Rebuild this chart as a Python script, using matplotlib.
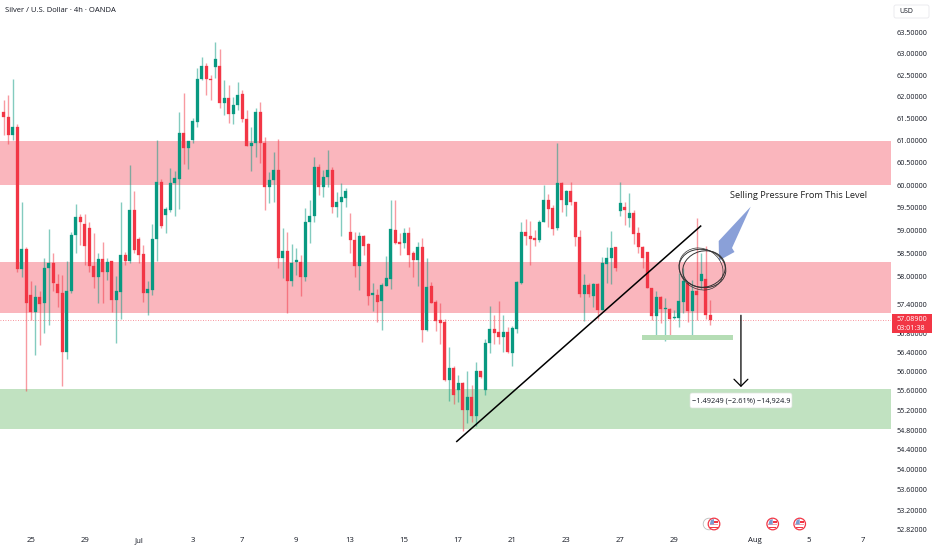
import matplotlib
matplotlib.use('Agg')
import matplotlib.pyplot as plt
import numpy as np
from matplotlib.patches import Ellipse, FancyBboxPatch, Polygon, Rectangle, Circle

plt.rcParams['font.family'] = ['Open Sans', 'DejaVu Sans']

opens = [61.64, 61.54, 61.13, 61.31, 58.16, 58.59, 57.61, 57.25, 57.57, 57.44,
         58.18, 58.29, 57.84, 57.65, 56.41, 57.69, 58.90, 59.30, 59.14, 59.05,
         58.23, 58.00, 58.38, 58.11, 58.33, 57.51, 57.68, 58.47, 58.33, 59.45,
         58.82, 58.49, 57.66, 57.72, 58.82, 60.08, 59.34, 59.45, 60.05, 60.15,
         61.17, 60.84, 61.02, 61.43, 62.40, 62.71, 62.41, 62.69, 62.70, 61.85,
         61.98, 61.60, 61.81, 62.06, 61.48, 60.87, 60.94, 61.64, 60.94, 59.97,
         60.11, 60.34, 58.40, 58.56, 57.91, 58.32, 58.32, 57.99, 59.18, 59.32,
         60.40, 59.97, 60.18, 60.35, 59.51, 59.63, 59.71, 58.98, 58.80, 58.23,
         58.88, 58.70, 57.61, 57.62, 57.48, 57.81, 57.96, 59.01, 58.75, 58.73,
         58.95, 58.51, 58.36, 58.65, 56.87, 57.81, 57.47, 57.07, 57.04, 55.83,
         56.07, 55.62, 55.77, 55.20, 55.47, 55.09, 56.01, 55.62, 56.59, 56.89,
         56.82, 56.73, 56.82, 56.38, 56.90, 57.86, 58.96, 58.88, 58.83, 58.80,
         59.20, 59.68, 59.49, 59.05, 60.05, 59.56, 59.88, 59.63, 58.87, 57.64,
         57.82, 57.59, 57.84, 57.30, 58.28, 58.40, 58.64, 59.44, 59.51, 59.28,
         59.39, 58.94, 58.65, 58.54, 57.75, 57.17, 57.57, 57.32, 57.32, 57.13,
         57.13, 57.47, 57.86, 57.27, 57.70, 57.92, 57.95, 57.19]
closes = [61.54, 61.13, 61.31, 58.16, 58.59, 57.44, 57.25, 57.57, 57.42, 58.18,
          58.29, 57.86, 57.65, 56.41, 57.69, 58.90, 59.30, 59.18, 58.67, 58.23,
          58.00, 58.38, 58.11, 58.31, 57.51, 57.69, 58.47, 58.33, 59.45, 58.58,
          58.47, 57.66, 57.73, 58.82, 60.08, 59.10, 59.47, 60.06, 60.17, 61.17,
          60.84, 60.99, 61.44, 62.40, 62.71, 62.40, 62.39, 62.88, 61.85, 61.98,
          61.60, 61.81, 62.04, 61.48, 60.87, 60.94, 61.64, 60.94, 59.97, 60.11,
          60.34, 58.40, 58.56, 57.91, 58.29, 58.36, 57.99, 59.20, 59.32, 60.40,
          59.97, 60.19, 60.35, 59.51, 59.63, 59.74, 59.88, 58.80, 58.23, 58.88,
          58.67, 57.59, 57.66, 57.47, 57.82, 57.98, 59.03, 58.73, 58.70, 58.95,
          58.48, 58.36, 58.65, 56.86, 57.79, 57.45, 57.05, 57.02, 55.83, 56.07,
          55.51, 55.77, 55.21, 55.47, 55.09, 56.01, 55.88, 56.60, 56.89, 56.81,
          56.73, 56.82, 56.40, 56.91, 57.88, 58.96, 58.88, 58.82, 58.80, 59.20,
          59.68, 59.48, 59.04, 60.04, 59.67, 59.88, 59.62, 58.87, 57.64, 57.82,
          57.64, 57.84, 57.30, 58.29, 58.41, 58.62, 58.20, 59.61, 59.45, 59.39,
          58.92, 58.65, 58.40, 57.75, 57.17, 57.57, 57.32, 57.33, 57.10, 57.14,
          57.49, 57.92, 57.27, 57.70, 57.62, 58.07, 57.19, 57.089]
highs = [61.92, 62.04, 62.40, 61.38, 59.62, 58.65, 57.91, 57.82, 57.69, 58.40,
         59.03, 58.51, 58.06, 58.04, 58.35, 58.98, 59.58, 59.36, 59.36, 59.20,
         58.95, 58.51, 58.76, 58.40, 58.35, 58.02, 59.62, 58.53, 60.45, 59.87,
         58.87, 58.69, 57.92, 59.14, 61.02, 60.15, 59.52, 60.39, 60.31, 61.66,
         62.09, 60.99, 61.52, 62.67, 62.91, 62.77, 62.50, 63.26, 63.11, 62.38,
         62.27, 62.00, 62.34, 62.16, 61.70, 61.31, 61.73, 61.88, 61.09, 60.30,
         60.75, 61.04, 59.05, 58.98, 58.71, 58.62, 58.47, 59.49, 59.67, 60.64,
         60.47, 60.34, 60.78, 60.41, 59.85, 60.06, 59.93, 59.38, 58.98, 58.98,
         58.90, 58.72, 57.86, 57.73, 57.86, 58.44, 59.67, 59.68, 58.94, 59.05,
         59.07, 58.56, 58.75, 58.85, 58.40, 57.89, 57.50, 57.45, 57.11, 56.51,
         56.11, 55.93, 55.79, 56.02, 55.72, 56.20, 56.01, 56.69, 57.37, 57.19,
         57.48, 57.18, 56.93, 56.95, 57.92, 59.20, 59.25, 59.22, 59.01, 59.23,
         60.00, 59.80, 59.56, 60.94, 60.07, 59.89, 60.08, 59.63, 59.01, 58.05,
         57.86, 57.87, 57.86, 58.42, 58.64, 58.99, 58.65, 60.08, 59.63, 59.82,
         59.45, 59.09, 58.67, 58.54, 57.77, 57.69, 57.59, 57.54, 57.34, 57.29,
         58.08, 58.18, 57.89, 57.93, 59.27, 58.51, 58.67, 57.50]
lows = [61.13, 60.93, 61.02, 58.11, 58.00, 55.60, 57.07, 56.35, 56.55, 56.80,
        56.97, 57.69, 57.36, 55.71, 56.27, 57.66, 58.51, 58.69, 58.26, 58.11,
        57.77, 57.43, 57.43, 57.93, 57.25, 56.60, 57.10, 58.26, 58.29, 58.51,
        58.29, 57.46, 57.18, 57.62, 58.33, 59.05, 58.94, 59.41, 59.32, 59.47,
        60.47, 60.37, 60.94, 61.31, 62.38, 62.04, 61.92, 62.44, 61.73, 61.58,
        61.39, 61.38, 61.70, 61.43, 60.87, 60.32, 60.64, 60.49, 59.45, 59.60,
        59.63, 58.18, 57.97, 57.22, 57.80, 58.04, 57.59, 57.92, 58.74, 59.20,
        59.78, 59.74, 59.97, 59.38, 59.29, 58.89, 59.51, 58.51, 58.00, 57.72,
        58.47, 57.39, 57.27, 57.04, 56.86, 57.81, 57.73, 58.71, 58.47, 58.63,
        58.21, 58.00, 57.80, 56.62, 56.85, 57.43, 56.85, 56.57, 55.81, 55.40,
        55.34, 55.38, 54.79, 54.95, 54.97, 54.89, 55.86, 55.51, 56.38, 56.58,
        56.57, 56.40, 56.38, 56.11, 56.80, 57.84, 58.69, 58.26, 58.67, 58.76,
        59.20, 59.07, 58.90, 59.01, 59.41, 59.32, 59.56, 58.67, 57.57, 57.05,
        57.57, 57.36, 57.11, 57.29, 57.86, 57.84, 58.13, 59.32, 59.12, 59.07,
        58.71, 58.51, 58.18, 57.75, 57.07, 56.72, 57.02, 56.64, 56.76, 57.11,
        56.93, 57.22, 57.04, 56.74, 57.07, 57.73, 57.11, 56.97]

price_ticks = [63.5, 63.0, 62.5, 62.0, 61.5, 61.0, 60.5, 60.0, 59.5, 59.0, 58.5, 58.0,
               57.4, 56.8, 56.4, 56.0, 55.6, 55.2, 54.8, 54.4, 54.0, 53.6, 53.2, 52.82]
date_ticks = [6, 18, 30, 42, 53, 65, 77, 89, 101, 113, 125, 137, 149, 167, 179, 191]
date_labels = ['25', '29', 'Jul', '3', '7', '9', '13', '15', '17', '21', '23', '27', '29', 'Aug', '5', '7']

red_zones = [(60.0, 61.0), (57.23, 58.32)]
green_zone = (54.82, 55.65)
support_bar = (56.65, 56.76)
support_span = (141.8, 162)
trend_x = [100.7, 154.9]
trend_y = [54.57, 59.10]
target_x = 163.85
target_y = (57.18, 55.68)
last_price = 57.089

UP = '#089981'
DOWN = '#F23645'

fig = plt.figure(figsize=(9.32, 5.5), dpi=100)
ax = fig.add_axes([0, 0, 891 / 932, 1])
ax.set_yscale('log')
ax.set_xlim(-0.815, 197.2)
ax.set_ylim(52.42, 64.26)

for low, high in red_zones:
    ax.axhspan(low, high, color='#FAB6BD', lw=0, zorder=1)
ax.axhspan(green_zone[0], green_zone[1], color='#C1E2C1', lw=0, zorder=1)

x = np.arange(len(opens))
o = np.array(opens)
c = np.array(closes)
colors = [UP if close >= open_ else DOWN for open_, close in zip(o, c)]

ax.vlines(x, lows, highs, colors=colors, lw=1.0, alpha=0.5, zorder=2)
ax.bar(x, np.abs(c - o), bottom=np.minimum(o, c), width=0.68, color=colors,
       edgecolor=colors, linewidth=0.2, zorder=3)

ax.axhline(last_price, color=DOWN, lw=0.6, ls=(0, (1, 2)), alpha=0.7, zorder=2)
ax.plot(trend_x, trend_y, color='black', lw=1.1, zorder=4)
ax.fill_between(support_span, support_bar[0], support_bar[1], color='#B5DDB5', lw=0, zorder=4)
ax.annotate('', xy=(target_x, target_y[1]), xytext=(target_x, target_y[0]),
            arrowprops=dict(arrowstyle='->,head_length=0.5,head_width=0.5', color='black',
                            lw=0.9, shrinkA=0, shrinkB=0), zorder=5)

for side in ax.spines.values():
    side.set_visible(False)
ax.yaxis.tick_right()
ax.set_yticks(price_ticks)
ax.set_yticklabels(['%.5f' % p for p in price_ticks])
ax.minorticks_off()
ax.tick_params(axis='y', length=0, pad=4.2, labelsize=5.2, labelcolor='#131722')
ax.set_xticks(date_ticks)
ax.set_xticklabels(date_labels)
ax.tick_params(axis='x', length=0, pad=-9.5, labelsize=5.6, labelcolor='#131722')

# drawings on top, in picture pixels
top = fig.add_axes([0, 0, 1, 1], facecolor='none')
top.set_xlim(0, 932)
top.set_ylim(550, 0)
top.axis('off')

top.text(5, 10.5, 'Silver / U.S. Dollar · 4h · OANDA', fontsize=5.5, color='#131722', va='center')
top.add_patch(FancyBboxPatch((894, 5), 35, 13, boxstyle='round,pad=0,rounding_size=2',
                             fc='white', ec='#E8E8EC', lw=0.6))
top.text(899, 11.5, 'USD', fontsize=5, color='#131722', va='center')

top.add_patch(Rectangle((892, 314), 40, 19, fc=DOWN, ec='none', zorder=5))
top.text(897, 319.5, '57.08900', fontsize=5.2, color='white', va='center', zorder=6)
top.text(897, 328, '03:01:38', fontsize=5.2, color='white', va='center', zorder=6)

top.text(730, 195, 'Selling Pressure From This Level', fontsize=6.7, color='#222222', va='center')
top.add_patch(Polygon([(750.7, 206.7), (732, 248), (734.5, 252), (719, 260.5), (718.7, 241)],
                      closed=True, fc='#8AA0D8', ec='none', zorder=6))
top.add_patch(Ellipse((702.5, 268.5), 47, 38, angle=12, fc='none', ec='#333333', lw=0.7, zorder=7))
top.add_patch(Ellipse((704, 269), 43, 36, angle=-15, fc='none', ec='#333333', lw=0.7, zorder=7))
top.add_patch(Ellipse((701, 269), 46, 40, angle=35, fc='none', ec='#333333', lw=0.5, zorder=7))

top.add_patch(FancyBboxPatch((690, 393), 102, 15, boxstyle='round,pad=0,rounding_size=2',
                             fc='white', ec='#DDE3DD', lw=0.5, zorder=6))
top.text(741, 400.5, '\u22121.49249 (\u22122.61%) \u221214,924.9', fontsize=5.3, color='#131722',
         ha='center', va='center', zorder=7)

# calendar event flags
top.add_patch(Circle((709, 524), 5.8, fc='white', ec='#BBBBBB', lw=0.6, zorder=5))
for fx in [714, 772.7, 799.7]:
    top.add_patch(Circle((fx, 524), 5.8, fc='white', ec=DOWN, lw=0.9, zorder=6))
    top.add_patch(Rectangle((fx - 4.3, 524.2), 8.6, 1.2, fc='#F7A0A8', ec='none', zorder=7))
    top.add_patch(Rectangle((fx - 3.6, 526.6), 7.2, 1.3, fc=DOWN, ec='none', zorder=7))
    top.add_patch(Rectangle((fx, 521.4), 4.2, 1.6, fc=DOWN, ec='none', zorder=7))
    top.add_patch(Polygon([(fx - 4.3, 524.5), (fx - 3, 520), (fx, 519), (fx, 524.5)], closed=True,
                          fc='#7C9CD0', ec='none', zorder=8))

fig.savefig('out.png', dpi=100, facecolor='white')
